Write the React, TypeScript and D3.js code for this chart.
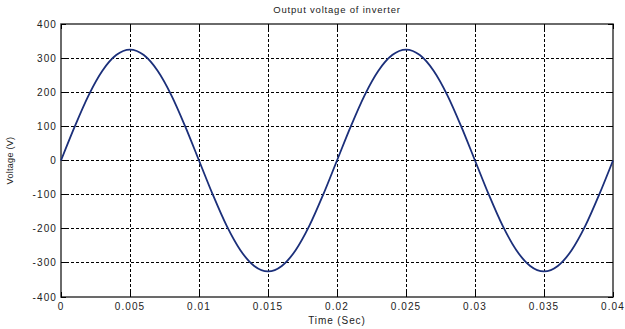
import React from "react";
import * as d3 from "d3";

// Sampled inverter output (time in seconds, voltage in volts)
const timeSec = [
  0, 0.001, 0.002, 0.003, 0.004, 0.005, 0.006, 0.007, 0.008, 0.009, 0.01,
  0.011, 0.012, 0.013, 0.014, 0.015, 0.016, 0.017, 0.018, 0.019, 0.02,
  0.021, 0.022, 0.023, 0.024, 0.025, 0.026, 0.027, 0.028, 0.029, 0.03,
  0.031, 0.032, 0.033, 0.034, 0.035, 0.036, 0.037, 0.038, 0.039, 0.04,
];
const voltage = [
  0, 100, 191, 263, 309, 325, 309, 263, 191, 100, 0,
  -100, -191, -263, -309, -325, -309, -263, -191, -100, 0,
  100, 191, 263, 309, 325, 309, 263, 191, 100, 0,
  -100, -191, -263, -309, -325, -309, -263, -191, -100, 0,
];
const xTicks = [0, 0.005, 0.01, 0.015, 0.02, 0.025, 0.03, 0.035, 0.04];
const yTicks = [-400, -300, -200, -100, 0, 100, 200, 300, 400];

const W = 625;
const H = 329;
const left = 61;
const right = 613;
const top = 24;
const bottom = 297;

export default function App() {
  const x = d3.scaleLinear().domain([0, 0.04]).range([left, right]);
  const y = d3.scaleLinear().domain([-400, 400]).range([bottom, top]);
  const points = timeSec.map((t, i) => [t, voltage[i]] as [number, number]);
  const line = d3
    .line<[number, number]>()
    .x((d) => x(d[0]))
    .y((d) => y(d[1]))
    .curve(d3.curveCardinal.tension(0));
  const font = "'Liberation Sans', Arial, sans-serif";
  const fmtX = (v: number) => (v === 0 ? "0" : String(v));
  const textFill = "#222";
  return (
    <svg
      width={W}
      height={H}
      style={{ position: "absolute", left: 0, top: 0, background: "#fff" }}
      fontFamily={font}
    >
      <rect x={0} y={0} width={W} height={H} fill="#fff" />
      {/* grid */}
      {xTicks.slice(1, -1).map((t) => (
        <line
          key={"gx" + t}
          x1={x(t)}
          x2={x(t)}
          y1={top}
          y2={bottom}
          stroke="#000"
          strokeWidth={1}
          strokeDasharray="3,2"
          shapeRendering="crispEdges"
        />
      ))}
      {yTicks.slice(1, -1).map((v) => (
        <line
          key={"gy" + v}
          x1={left}
          x2={right}
          y1={y(v)}
          y2={y(v)}
          stroke="#000"
          strokeWidth={1}
          strokeDasharray="3,2"
          shapeRendering="crispEdges"
        />
      ))}
      {/* frame */}
      <rect
        x={left}
        y={top}
        width={right - left}
        height={bottom - top}
        fill="none"
        stroke="#3a3a3a"
        strokeWidth={1.5}
      />
      {/* tick marks */}
      {xTicks.map((t) => (
        <g key={"tx" + t}>
          <line x1={x(t)} x2={x(t)} y1={bottom} y2={bottom - 5} stroke="#000" shapeRendering="crispEdges" />
          <line x1={x(t)} x2={x(t)} y1={top} y2={top + 5} stroke="#000" shapeRendering="crispEdges" />
          <text
            x={x(t)}
            y={bottom + 13}
            fontSize={10}
            letterSpacing={1.1}
            textAnchor="middle"
            fill={textFill}
          >
            {fmtX(t)}
          </text>
        </g>
      ))}
      {yTicks.map((v) => (
        <g key={"ty" + v}>
          <line x1={left} x2={left + 5} y1={y(v)} y2={y(v)} stroke="#000" shapeRendering="crispEdges" />
          <line x1={right} x2={right - 5} y1={y(v)} y2={y(v)} stroke="#000" shapeRendering="crispEdges" />
          <text
            x={left - 4}
            y={y(v) + 3.5}
            fontSize={10}
            letterSpacing={1.1}
            textAnchor="end"
            fill={textFill}
          >
            {v}
          </text>
        </g>
      ))}
      {/* series */}
      <path d={line(points) || ""} fill="none" stroke="#1b2f7a" strokeWidth={1.8} />
      {/* labels */}
      <text x={337} y={13} fontSize={9.5} letterSpacing={0.8} textAnchor="middle" fill={textFill}>
        Output voltage of inverter
      </text>
      <text x={337} y={324} fontSize={10} letterSpacing={0.9} textAnchor="middle" fill={textFill}>
        Time (Sec)
      </text>
      <text
        transform={`translate(13,${y(0)}) rotate(-90)`}
        fontSize={9}
        letterSpacing={0.3}
        textAnchor="middle"
        fill={textFill}
      >
        Voltage (V)
      </text>
    </svg>
  );
}
